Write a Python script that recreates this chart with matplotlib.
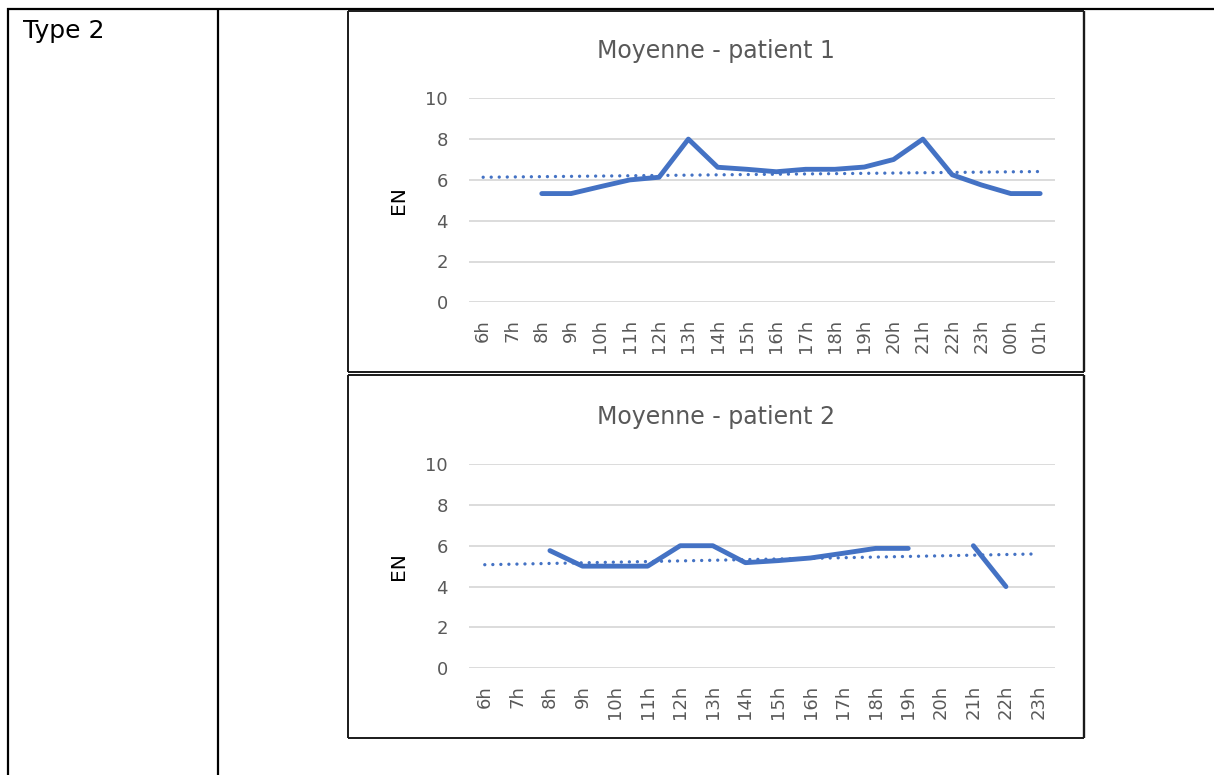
import numpy as np
import matplotlib
matplotlib.use("Agg")
import matplotlib.pyplot as plt
from matplotlib.lines import Line2D

# ---------------- data ----------------
row_label = "Type 2"
title1 = "Moyenne - patient 1"
title2 = "Moyenne - patient 2"
ylabel = "EN"

hours1 = ["6h", "7h", "8h", "9h", "10h", "11h", "12h", "13h", "14h", "15h",
          "16h", "17h", "18h", "19h", "20h", "21h", "22h", "23h", "00h", "01h"]
en1 = [np.nan, np.nan, 5.33, 5.33, 5.67, 6.0, 6.13, 8.0, 6.62, 6.52,
       6.4, 6.52, 6.52, 6.63, 7.0, 8.0, 6.25, 5.75, 5.33, 5.33]
trend1 = [6.13, 6.41]   # dotted linear trend at first / last category

hours2 = ["6h", "7h", "8h", "9h", "10h", "11h", "12h", "13h", "14h",
          "15h", "16h", "17h", "18h", "19h", "20h", "21h", "22h", "23h"]
en2 = [np.nan, np.nan, 5.76, 5.0, 5.0, 5.0, 6.0, 6.0, 5.17,
       5.27, 5.4, 5.63, 5.87, 5.87, np.nan, 6.0, 4.0, np.nan]
trend2 = [5.07, 5.6]

yticks = [0, 2, 4, 6, 8, 10]

# ---------------- styling ----------------
W, H = 1214, 775
DPI = 100
BLUE = "#4472C4"
GRID = "#D9D9D9"
TXT = "#595959"
plt.rcParams["font.family"] = ["DejaVu Sans"]

fig = plt.figure(figsize=(W / DPI, H / DPI), dpi=DPI)
fig.patch.set_facecolor("white")


def fx(px):
    return px / W


def fy(py):
    return 1 - py / H


def hline(x0, x1, y, lw, color="black"):
    fig.add_artist(Line2D([fx(x0), fx(x1)], [fy(y), fy(y)], lw=lw, color=color,
                          transform=fig.transFigure, solid_capstyle="butt"))


def vline(x, y0, y1, lw, color="black"):
    fig.add_artist(Line2D([fx(x), fx(x)], [fy(y0), fy(y1)], lw=lw, color=color,
                          transform=fig.transFigure, solid_capstyle="butt"))


# table grid
hline(7, 1214, 8.5, 1.6)
vline(8, 7.5, 775, 1.6)
vline(218, 7.5, 775, 1.6)

fig.text(fx(23), fy(38), row_label, fontsize=18, color="black",
         ha="left", va="baseline")


def chart(box, plot, cats, vals, trend, title):
    bx0, by0, bx1, by1 = box
    for (a, b, c) in [(bx0, by0, bx1), (bx0, by1, bx1)]:
        hline(a, c, b, 1.4, "#1a1a1a")
    vline(bx0, by0, by1, 1.4, "#1a1a1a")
    vline(bx1, by0, by1, 1.7, "#1a1a1a")

    px0, ptop, px1, pbot = plot
    ax = fig.add_axes([fx(px0), fy(pbot), fx(px1) - fx(px0), fy(ptop) - fy(pbot)])
    n = len(cats)
    x = np.arange(n)
    ax.set_xlim(-0.5, n - 0.5)
    ax.set_ylim(0, 10)
    ax.set_yticks(yticks)
    ax.set_xticks(x)
    ax.set_xticklabels(cats, rotation=90, va="top", ha="center")
    for s in ax.spines.values():
        s.set_visible(False)
    ax.grid(axis="y", color=GRID, lw=1.3)
    ax.set_axisbelow(True)
    ax.tick_params(axis="both", length=0, colors=TXT, labelsize=13)
    ax.tick_params(axis="y", pad=15)
    ax.tick_params(axis="x", pad=12)
    ax.patch.set_alpha(0)

    ax.plot(x, vals, color=BLUE, lw=3.5, solid_capstyle="round",
            solid_joinstyle="round", zorder=3)
    ax.plot([x[0], x[-1]], trend, color=BLUE, lw=2.4,
            linestyle=(0, (0.01, 2.4)), dash_capstyle="round", zorder=4)

    cx = (bx0 + bx1) / 2
    fig.text(fx(cx), fy(ptop - 40), title, fontsize=17, color=TXT,
             ha="center", va="baseline")
    fig.text(fx(399), fy((ptop + pbot) / 2), ylabel, fontsize=14.5, color="black",
             rotation=90, ha="center", va="center")
    return ax


chart((348, 10.5, 1084, 371.5), (468.5, 98.3, 1054.8, 302.3),
      hours1, en1, trend1, title1)
chart((348, 375, 1084, 738), (468.5, 464.0, 1054.8, 668.3),
      hours2, en2, trend2, title2)

fig.savefig("out.png", dpi=DPI, facecolor="white")
